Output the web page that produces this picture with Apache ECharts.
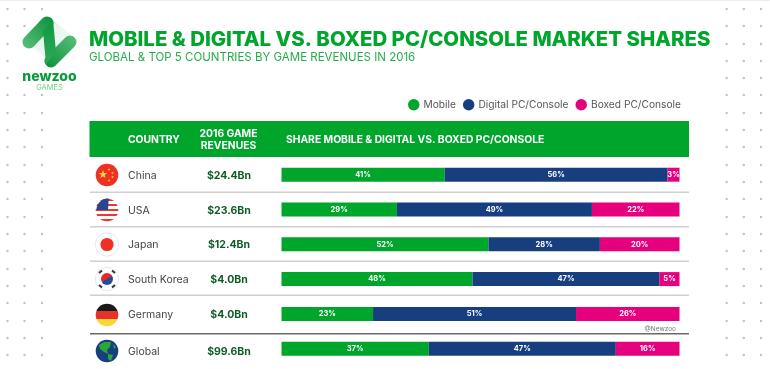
<!DOCTYPE html>
<html>
<head>
<meta charset="utf-8">
<title>Mobile & Digital vs. Boxed PC/Console Market Shares</title>
<style>
  html, body { margin: 0; padding: 0; background: #fff; }
  #chart { width: 770px; height: 369px; }
</style>
<script src="https://cdn.jsdelivr.net/npm/echarts@6/dist/echarts.min.js"></script>
</head>
<body>
<div id="chart"></div>
<script>
  var countries = ['China', 'USA', 'Japan', 'South Korea', 'Germany', 'Global'];
  var revenues = ['$24.4Bn', '$23.6Bn', '$12.4Bn', '$4.0Bn', '$4.0Bn', '$99.6Bn'];
  var mobile = [41, 29, 52, 48, 23, 37];
  var digital = [56, 49, 28, 47, 51, 47];
  var boxed = [3, 22, 20, 5, 26, 16];

  var GREEN = '#00a52c';
  var NAVY = '#173f80';
  var PINK = '#e6007e';
  var FONT = 'Inter, sans-serif';

  var chart = echarts.init(document.getElementById('chart'), null, { renderer: 'canvas' });

  function barSeries(name, data, color) {
    return {
      name: name,
      type: 'bar',
      stack: 'share',
      data: data,
      barWidth: 14,
      itemStyle: { color: color },
      label: {
        show: true,
        position: 'inside',
        formatter: '{c}%',
        color: '#fff',
        fontFamily: FONT,
        fontSize: 7.5,
        fontWeight: 'bold'
      }
    };
  }

  // background dot pattern, the logo sits on top of some of it
  function dots() {
    var out = [];
    var ys = [9, 26, 44, 61, 78, 95, 113, 130, 147, 165, 182, 199, 217, 234, 251, 269, 286, 303, 321, 338, 355];
    var xs = [7.5, 24.5, 42, 726.7, 743.8, 761];
    xs.forEach(function (x) {
      ys.forEach(function (y) {
        if (x === 42 && y > 20 && y < 92) return;
        if (x === 24.5 && y > 50 && y < 75) return;
        if (x === 24.5 && y === 78) return;
        out.push({ type: 'circle', silent: true, shape: { cx: x, cy: y, r: 1.2 }, style: { fill: '#c2c2c2' } });
      });
    });
    return out;
  }

  function starPoints(cx, cy, r) {
    var pts = [];
    for (var i = 0; i < 10; i++) {
      var a = -Math.PI / 2 + i * Math.PI / 5;
      var d = i % 2 ? r * 0.4 : r;
      pts.push([cx + d * Math.cos(a), cy + d * Math.sin(a)]);
    }
    return pts;
  }

  function disc(cx, cy, r, fill) {
    return { type: 'circle', silent: true, shape: { cx: cx, cy: cy, r: r }, style: { fill: fill } };
  }

  function poly(points, fill) {
    return { type: 'polygon', silent: true, shape: { points: points }, style: { fill: fill } };
  }

  function stripes(list) {
    // hard stop vertical gradient for the band flags
    var stops = [];
    list.forEach(function (c, i) {
      stops.push({ offset: i / list.length, color: c });
      stops.push({ offset: (i + 1) / list.length, color: c });
    });
    return new echarts.graphic.LinearGradient(0, 0, 0, 1, stops);
  }

  function flags() {
    var x = 107, r = 11.3;
    var out = [];

    // China
    out.push(disc(x, 175, r, '#ef3124'));
    out.push(poly(starPoints(x - 4, 174.5, 4.4), '#ffd83c'));
    out.push(poly(starPoints(x + 2, 169.5, 1.4), '#ffd83c'));
    out.push(poly(starPoints(x + 5.5, 173, 1.4), '#ffd83c'));
    out.push(poly(starPoints(x + 5.5, 177, 1.4), '#ffd83c'));
    out.push(poly(starPoints(x + 2, 180.5, 1.4), '#ffd83c'));

    // USA
    out.push(disc(x, 210, r, stripes(['#e8392f', '#fff', '#e8392f', '#fff', '#e8392f', '#fff', '#e8392f', '#fff', '#e8392f'])));
    out.push({ type: 'sector', silent: true, shape: { cx: x + 1, cy: 210, r: r + 0.2, r0: 0, startAngle: Math.PI, endAngle: Math.PI * 1.52 }, style: { fill: '#27478f' } });

    // Japan
    out.push({ type: 'circle', silent: true, shape: { cx: x, cy: 244.5, r: r + 0.4 }, style: { fill: '#fff', stroke: '#e9e7f2', lineWidth: 1 } });
    out.push(disc(x, 244.5, 6.6, '#ef3124'));

    // South Korea
    out.push({ type: 'circle', silent: true, shape: { cx: x, cy: 279, r: r + 0.4 }, style: { fill: '#fff', stroke: '#e9e7f2', lineWidth: 1 } });
    out.push(disc(x, 279, 6, new echarts.graphic.LinearGradient(0.2, 0, 0.8, 1, [
      { offset: 0, color: '#e8262d' }, { offset: 0.5, color: '#e8262d' },
      { offset: 0.5, color: '#1d4f9c' }, { offset: 1, color: '#1d4f9c' }
    ])));
    [[-8, -6, -5, -8.5], [8, -6, 5, -8.5], [-8, 6, -5, 8.5], [8, 6, 5, 8.5]].forEach(function (b) {
      out.push({ type: 'line', silent: true, shape: { x1: x + b[0], y1: 279 + b[1], x2: x + b[2], y2: 279 + b[3] }, style: { stroke: '#333', lineWidth: 2 } });
    });

    // Germany
    out.push(disc(x, 315, r, stripes(['#1a1a1a', '#e8312a', '#fbd63a'])));

    // Global
    out.push(disc(x, 351, r, NAVY));
    out.push(poly([[99, 345], [104, 342], [111, 342], [110, 347], [107, 350], [108, 354], [104, 352], [100, 349]], '#2aa63c'));
    out.push(poly([[108, 354], [113, 355], [111, 361], [108, 359]], '#2aa63c'));
    out.push(poly([[113, 344], [116, 347], [114, 349]], '#2aa63c'));
    return out;
  }

  function logo() {
    var grad = new echarts.graphic.LinearGradient(0, 1, 1, 0, [
      { offset: 0, color: '#5cc07a' }, { offset: 1, color: '#0a8f3c' }
    ]);
    var grad2 = new echarts.graphic.LinearGradient(0, 1, 1, 0, [
      { offset: 0, color: '#0a8f3c' }, { offset: 1, color: '#5cc07a' }
    ]);
    return [
      poly([[50, 17], [74, 38], [53, 66], [30, 44]], new echarts.graphic.LinearGradient(0, 0, 1, 1, [
        { offset: 0, color: '#d8f0df' }, { offset: 1, color: '#ffffff' }
      ])),
      { type: 'line', silent: true, shape: { x1: 29, y1: 42, x2: 47, y2: 23 }, style: { stroke: grad, lineWidth: 13, lineCap: 'round' } },
      { type: 'line', silent: true, shape: { x1: 51, y1: 61, x2: 70, y2: 42 }, style: { stroke: grad2, lineWidth: 13, lineCap: 'round' } },
      poly([[43, 31], [53, 20], [56, 52], [46, 64]], new echarts.graphic.LinearGradient(0, 0, 0, 1, [
        { offset: 0, color: '#0f9641' }, { offset: 1, color: '#2dac56' }
      ]))
    ];
  }

  function rules() {
    var out = [];
    [191.5, 226, 260.5, 294.5].forEach(function (y) {
      out.push({ type: 'rect', silent: true, shape: { x: 90, y: y, width: 599, height: 1.4 }, style: { fill: '#d0d0d0' } });
    });
    out.push({ type: 'rect', silent: true, shape: { x: 90, y: 333, width: 599, height: 1.5 }, style: { fill: '#6a6a6a' } });
    return out;
  }

  function label(text, x, y, opts) {
    return {
      type: 'text',
      silent: true,
      x: x,
      y: y,
      z: 5,
      style: Object.assign({
        text: text,
        fontFamily: FONT,
        fill: '#fff',
        fontSize: 10.3,
        fontWeight: 'bold',
        textAlign: 'left',
        textVerticalAlign: 'middle'
      }, opts || {})
    };
  }

  // rows keep their text a little under the bar centre, Global most of all
  function nudged(value) {
    return value === 'Global' || value === '$99.6Bn' ? '{low|' + value + '}' : '{row|' + value + '}';
  }

  chart.setOption({
    animation: false,
    backgroundColor: '#fff',
    title: {
      text: 'MOBILE & DIGITAL VS. BOXED PC/CONSOLE MARKET SHARES',
      subtext: 'GLOBAL & TOP 5 COUNTRIES BY GAME REVENUES IN 2016',
      left: 89,
      top: 30,
      padding: 0,
      itemGap: 1.5,
      textStyle: { color: GREEN, fontFamily: FONT, fontSize: 20.4, fontWeight: 800 },
      subtextStyle: { color: '#26ad4b', fontFamily: FONT, fontSize: 11.5, fontWeight: 'normal' }
    },
    legend: {
      left: 408,
      top: 99,
      padding: 0,
      itemGap: 7,
      itemWidth: 11.5,
      itemHeight: 11.5,
      icon: 'circle',
      selectedMode: false,
      textStyle: { color: '#555', fontFamily: FONT, fontSize: 10.2, padding: [1, 0, 0, -1] },
      data: ['Mobile', 'Digital PC/Console', 'Boxed PC/Console']
    },
    grid: { left: 281.5, right: 90.5, top: 157.3, height: 208.8 },
    xAxis: { type: 'value', min: 0, max: 100, show: false },
    yAxis: [
      {
        type: 'category',
        inverse: true,
        data: countries,
        axisLine: { show: false },
        axisTick: { show: false },
        axisLabel: {
          align: 'left',
          margin: 153.5,
          formatter: nudged,
          rich: {
            row: { color: '#444', fontFamily: FONT, fontSize: 10.5, padding: [2, 0, 0, 0] },
            low: { color: '#444', fontFamily: FONT, fontSize: 10.5, padding: [7, 0, 0, 0] }
          }
        }
      },
      {
        type: 'category',
        inverse: true,
        position: 'left',
        data: revenues,
        axisLine: { show: false },
        axisTick: { show: false },
        axisLabel: {
          align: 'center',
          margin: 52.5,
          formatter: nudged,
          rich: {
            row: { color: '#0d5c25', fontFamily: FONT, fontSize: 10.5, fontWeight: 'bold', padding: [2, 0, 0, 0] },
            low: { color: '#0d5c25', fontFamily: FONT, fontSize: 10.5, fontWeight: 'bold', padding: [7, 0, 0, 0] }
          }
        }
      }
    ],
    series: [
      barSeries('Mobile', mobile, GREEN),
      barSeries('Digital PC/Console', digital, NAVY),
      barSeries('Boxed PC/Console', boxed, PINK)
    ],
    graphic: {
      elements: [
        { type: 'rect', silent: true, shape: { x: 0, y: 0, width: 770, height: 1 }, style: { fill: '#eeeeee' } },
        { type: 'rect', silent: true, z: 1, shape: { x: 89.5, y: 121, width: 599.5, height: 36 }, style: { fill: GREEN } },
        label('COUNTRY', 128, 139.5),
        label('2016 GAME', 228.5, 134, { textAlign: 'center' }),
        label('REVENUES', 228.5, 145.5, { textAlign: 'center' }),
        label('SHARE MOBILE & DIGITAL VS. BOXED PC/CONSOLE', 286, 139.5),
        label('newzoo', 49.5, 77, { textAlign: 'center', fill: '#0a9a3c', fontSize: 14, fontWeight: 800 }),
        label('GAMES', 49.5, 88, { textAlign: 'center', fill: '#6fd08c', fontSize: 7.5, fontWeight: 'normal' }),
        label('@Newzoo', 676, 329, { textAlign: 'right', fill: '#777', fontSize: 6.5, fontWeight: 'normal' })
      ].concat(dots(), logo(), rules(), flags())
    }
  });
</script>
</body>
</html>
